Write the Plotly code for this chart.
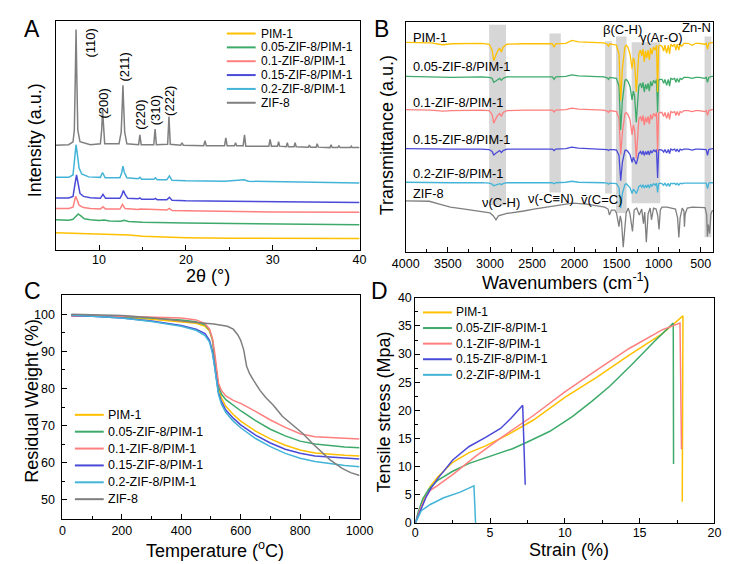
import plotly.graph_objects as go

W, H = 730, 564
FONT = "Liberation Sans, Arial, Helvetica, sans-serif"


def fx(px):
    return px / W


def fy(py):
    return 1 - py / H


names = ["PIM-1", "0.05-ZIF-8/PIM-1", "0.1-ZIF-8/PIM-1", "0.15-ZIF-8/PIM-1", "0.2-ZIF-8/PIM-1", "ZIF-8"]
colors = ["#FFC000", "#3DAA6A", "#FF7F7F", "#4A4AD8", "#43B4D8", "#7F7F7F"]

# ---------------- A: XRD ----------------
xrd_pim1_x = [5.0, 10.0, 13.5, 15.0, 17.0, 20.0, 25.0, 30.0, 40.0]
xrd_pim1_y = [17.7, 16.3, 15.5, 14.0, 13.2, 12.7, 12.1, 12.0, 11.7]
xrd_005_x = [5.0, 6.5, 7.0, 7.3, 7.6, 7.9, 8.3, 9.0, 10.0, 10.6, 11.2, 12.5, 12.9, 13.4, 15.0, 20.0, 30.0, 40.0]
xrd_005_y = [31, 30.5, 31.5, 34.5, 37, 35, 32, 31, 30.2, 30.8, 29.8, 29.5, 30.5, 29.3, 28.5, 27.7, 26.5, 26]
xrd_01_x = [5.0, 6.5, 7.0, 7.15, 7.3, 7.45, 7.7, 8.2, 9.0, 10.15, 10.45, 10.75, 12.4, 12.7, 13.0, 14.5, 14.7, 16.5, 17.8, 18.1, 18.4, 20.0, 25.0, 30.0, 40.0]
xrd_01_y = [42.7, 42.7, 44, 50, 55, 52, 46, 43.5, 42.5, 42, 44.3, 42, 42, 46.7, 42.5, 41.5, 42, 41.5, 41, 42.7, 40.5, 40.2, 39.5, 39, 38.7]
xrd_015_x = [5.0, 6.5, 7.0, 7.2, 7.4, 7.55, 7.8, 8.2, 9.0, 10.15, 10.45, 10.75, 12.4, 12.6, 12.8, 13.0, 13.3, 14.5, 14.7, 14.9, 16.3, 16.5, 16.7, 17.8, 18.1, 18.4, 20.0, 25.0, 30.0, 35.0, 40.0]
xrd_015_y = [53.3, 53.3, 55, 66, 77, 70, 58, 55, 53.5, 53, 57, 53, 53, 56, 61, 57, 53, 52.5, 53.5, 52, 52, 53, 51.5, 51.5, 54, 51, 50.5, 50, 49.5, 49, 48.7]
xrd_02_x = [5.0, 6.5, 7.0, 7.2, 7.35, 7.5, 7.7, 8.0, 8.8, 10.15, 10.4, 10.7, 12.4, 12.6, 12.75, 12.9, 13.2, 14.5, 14.7, 14.9, 16.3, 16.5, 16.7, 17.8, 18.1, 18.4, 20.0, 24.5, 26.7, 27.2, 30.0, 35.0, 40.0]
xrd_02_y = [74.5, 74.5, 77, 95, 108, 98, 84, 78, 75, 74.5, 79.5, 74, 74, 79, 86, 80, 74, 73, 74.5, 72.5, 72.5, 74, 72, 72, 76, 71.5, 71, 70.5, 72, 70.5, 70, 69.5, 68.7]
xrd_zif8_x = [5.0, 6.5, 7.0, 7.15, 7.25, 7.35, 7.45, 7.55, 7.8, 9.0, 10.15, 10.3, 10.4, 10.5, 10.65,
              12.3, 12.55, 12.68, 12.75, 12.82, 12.95, 13.2, 14.55, 14.7, 14.85, 16.3, 16.45, 16.6,
              17.9, 18.05, 18.2, 19.4, 19.55, 19.7, 22.05, 22.2, 22.35, 24.45, 24.6, 24.75, 25.6, 25.72,
              25.85, 26.6, 26.75, 26.9, 29.55, 29.7, 29.85, 30.55, 30.68, 30.8, 31.55, 31.68, 31.8,
              32.45, 32.58, 32.7, 34.1, 34.22, 34.35, 35.0, 35.12, 35.25, 36.6, 36.72, 36.85, 37.5,
              37.62, 37.75, 38.95, 39.05, 39.15, 40.0]
xrd_zif8_y = [107.5, 108, 111, 123, 171, 226, 171, 123, 111, 108, 109, 123, 144, 123, 109,
              109, 121, 151, 169, 151, 121, 109, 108, 118, 108, 108, 124, 108,
              108.5, 137, 108.5, 107.5, 110, 107.5, 107, 112, 107, 107, 115, 107, 107, 110,
              107, 107, 118, 106.5, 106.5, 113.5, 106.5, 106.5, 111, 106.5, 106, 110, 106,
              106, 110, 106, 105.5, 107.5, 105.5, 105.5, 109, 105.5, 105, 108, 105, 105,
              107, 105, 105, 106.5, 105, 105]
hkl_labels = ["(110)", "(200)", "(211)", "(220)", "(310)", "(222)"]

# ---------------- B: FTIR ----------------
ftir_wn = [4000, 3700, 3565, 3450, 3100, 3010, 2975, 2955, 2935, 2910,
           2885, 2865, 2845, 2800, 2600, 2260, 2240, 2220, 2100, 2030,
           1950, 1800, 1650, 1610, 1595, 1580, 1540, 1500, 1470, 1450,
           1430, 1400, 1385, 1365, 1340, 1315, 1300, 1285, 1265, 1250,
           1235, 1215, 1200, 1185, 1170, 1155, 1140, 1125, 1110, 1095,
           1080, 1060, 1040, 1025, 1012, 1000, 985, 960, 940, 925,
           905, 885, 870, 855, 835, 810, 795, 780, 760, 745,
           725, 700, 650, 600, 560, 520, 480, 450, 435, 420,
           405, 390, 370, 350]
ftir_pim1 = [215, 214.5, 212.5, 213.5, 214, 213, 207, 196, 201, 206,
             209, 205, 210, 213, 213.5, 213.5, 210, 213.5, 214, 217,
             215.5, 215, 214.5, 213, 211, 213.5, 213, 212, 203, 155,
             188, 210, 212, 210, 203, 188, 199, 195, 164, 181,
             203, 207, 201, 208, 195, 206, 199, 207, 197, 209,
             203, 210, 207, 212, 164, 211, 212, 211, 206, 212,
             204, 212, 203, 213, 211, 213, 207, 213, 207, 213,
             211, 214, 214, 212, 214, 214, 213.5, 213, 214, 208,
             214, 214.5, 215, 215]
ftir_005 = [180, 179.5, 178.5, 179, 179.5, 179, 178, 174, 175, 177,
            178, 176, 178, 179.5, 179.5, 179.5, 177, 179.5, 180, 181.5,
            180.5, 180, 179.5, 178.5, 177, 179, 178.5, 178, 170, 125,
            155, 176, 177, 175, 170, 156, 165, 160, 133, 150,
            170, 173, 168, 174, 164, 172, 167, 173, 165, 175,
            170, 176, 173, 177, 143, 176, 177, 177, 173, 177,
            171, 177, 170, 178, 177, 178, 174, 178, 174, 178,
            177, 179, 179, 178, 179, 179, 178.5, 178, 179, 174,
            179, 179.5, 180, 180]
ftir_01 = [146, 145.5, 144.5, 145, 145.5, 145, 141, 132, 136, 140,
           142, 139, 143, 145, 145.5, 145.5, 143.5, 145.5, 146, 147.5,
           146.5, 146, 145.5, 144.5, 143, 145, 144.5, 144, 137, 100,
           122, 142, 143, 141, 136, 120, 130, 125, 96, 112,
           136, 139, 134, 140, 130, 138, 133, 139, 131, 141,
           136, 142, 139, 143, 103, 142, 143, 143, 139, 143,
           137, 143, 136, 144, 143, 144, 140, 144, 140, 144,
           143, 145, 145, 144, 145, 145, 144.5, 144, 145, 140,
           145, 145.5, 146, 146]
ftir_015 = [106, 105.5, 105, 105.5, 105.5, 105, 103, 99.5, 101, 103,
            104, 102, 104, 105.5, 105.5, 105.5, 104, 105.5, 106, 107.5,
            106.5, 106, 105.5, 105, 104, 105, 105, 104.5, 99, 73,
            92, 104, 104.5, 103, 100, 92, 97, 94, 90, 95,
            101, 103, 100, 103.5, 99, 103, 100, 103.5, 99.5, 104,
            101.5, 104.5, 103, 105, 76, 104.5, 105, 104.5, 102.5, 105,
            101.5, 105, 101, 105.5, 104.5, 105.5, 103, 105.5, 102.5, 105.5,
            104.5, 105.5, 105.5, 104.5, 105.5, 105.5, 105, 104.5, 105, 99,
            105, 105.5, 106, 106]
ftir_02 = [71.5, 71, 70.5, 71, 71, 70.5, 69.5, 68, 68.5, 69.5,
           70, 69, 70, 71, 71, 71, 70, 71, 71.5, 72.5,
           71.5, 71.5, 71, 70.5, 69.5, 70.5, 70.5, 70, 66, 45,
           60, 69, 70, 68.5, 66, 60, 64, 63, 60, 63,
           67, 68.5, 66.5, 69, 65.5, 68.5, 66, 69, 65.5, 69.5,
           67.5, 70, 68.5, 70.5, 61, 70, 70.5, 70, 68.5, 70.5,
           67.5, 70.5, 67, 70.5, 70, 70.5, 69, 70.5, 68.5, 70.5,
           70, 70.5, 70.5, 70, 70.5, 70.5, 70, 70, 70.5, 65,
           70.5, 71, 71, 71]
ftir_zif8_wn = [4000, 3720, 3600, 3470, 3300, 3135, 3000, 2960, 2929, 2900,
                2800, 2600, 2480, 2250, 2020, 1850, 1790, 1700, 1640, 1600,
                1584, 1560, 1520, 1500, 1470, 1455, 1440, 1420, 1400, 1385,
                1360, 1340, 1310, 1290, 1260, 1230, 1200, 1180, 1165, 1146,
                1125, 1100, 1085, 1060, 1030, 1010, 995, 980, 960, 900,
                850, 800, 775, 760, 745, 720, 700, 694, 685, 660,
                600, 500, 450, 430, 421, 410, 395, 380, 360]
ftir_zif8 = [52.3, 52, 49, 46, 44, 42, 40, 37, 33, 37,
             39.5, 42, 44, 47, 50, 49, 48, 47, 46, 44,
             38, 43, 43, 40, 26, 37, 31, 5, 21, 40,
             45, 39, 21, 43, 45, 38, 44, 29, 41, 10,
             39, 45, 33, 45, 44, 37, 23, 43, 46, 46,
             45, 44, 35, 15, 35, 45, 42, 26, 39, 45,
             46, 46, 45.5, 38, 16, 28, 19, 39, 43]
band_labels = ["\u03bd(C-H)", "\u03bd(-C\u2261N)", "\u1e7d(C=C)", "\u03b2(C-H)", "\u03b3(Ar-O)", "Zn-N"]
band_lo = [2810, 2160, 1555, 1380, 980, 375]
band_hi = [3010, 2295, 1635, 1505, 1320, 455]
band_top = [233, 224, 216, 221, 215, 221]
band_bot = [48, 61, 60, 40, 50, 15]

# ---------------- C: TGA ----------------
tga_temp = [30, 100, 200, 300, 400, 450, 480, 495, 505, 512, 518, 525, 535, 550, 575, 600, 650, 700, 750, 800, 850, 900, 950, 1000]
tga_pim1 = [99.8, 99.6, 99.2, 98.7, 98.1, 97.6, 96.8, 95.5, 93.0, 89.0, 84.5, 80.5, 77.5, 75.2, 73.0, 71.2, 68.5, 66.4, 64.7, 63.4, 62.6, 62.2, 62.0, 61.8]
tga_005 = [99.9, 99.7, 99.4, 99.0, 98.5, 98.0, 97.2, 95.8, 93.2, 89.5, 85.0, 81.0, 78.5, 77.0, 75.5, 74.0, 71.3, 69.0, 67.2, 65.8, 65.0, 64.5, 64.2, 64.0]
tga_01 = [99.5, 99.6, 99.5, 99.3, 99.0, 98.5, 97.5, 96.0, 93.5, 90.0, 85.5, 81.5, 79.5, 78.0, 76.8, 76.0, 73.8, 71.5, 69.5, 67.8, 67.0, 66.8, 66.6, 66.4]
tga_015 = [99.7, 99.5, 99.0, 98.2, 97.0, 96.0, 94.8, 93.0, 90.0, 86.5, 82.5, 79.0, 76.5, 74.2, 72.0, 70.2, 67.4, 65.3, 63.6, 62.5, 61.8, 61.5, 61.2, 61.0]
tga_02 = [99.8, 99.5, 99.0, 98.1, 96.8, 95.7, 94.3, 92.5, 89.5, 86.0, 82.0, 78.5, 75.8, 73.5, 71.2, 69.4, 66.5, 64.3, 62.5, 61.2, 60.3, 59.7, 59.2, 58.9]
tga_zif8_temp = [30, 100, 200, 300, 380, 450, 510, 555, 575, 590, 600, 610, 620, 630, 645, 665, 685, 710, 740, 780, 810, 840, 870, 900, 940, 970, 1000]
tga_zif8 = [100.0, 99.9, 99.7, 99.1, 98.3, 97.8, 97.4, 96.8, 96.0, 94.5, 93.0, 90.5, 86.0, 84.0, 82.0, 79.5, 77.5, 75.5, 72.5, 69.8, 67.8, 65.3, 63.0, 60.8, 58.5, 57.3, 56.5]

# ---------------- D: tensile ----------------
strain_pim1 = [0, 0.2, 0.6, 1.0, 1.5, 2.5, 3.6, 4.7, 6.2, 7.9, 10.0, 12.2, 14.3, 16.5, 17.9, 17.85]
stress_pim1 = [0, 1.5, 4.5, 6.5, 8.2, 10.8, 12.5, 13.7, 15.7, 18.3, 22.3, 26.0, 29.8, 33.6, 36.8, 3.8]
strain_005 = [0, 0.2, 0.5, 0.9, 1.5, 2.5, 3.6, 5.0, 6.5, 7.5, 9.0, 10.5, 11.8, 13.0, 14.5, 16.0, 17.25, 17.27]
stress_005 = [0, 2.0, 4.3, 6.0, 7.6, 9.2, 10.6, 11.9, 13.2, 14.4, 16.3, 18.9, 21.6, 24.3, 28.2, 32.3, 35.5, 10.5]
strain_01 = [0, 0.3, 0.7, 1.0, 1.5, 2.5, 4.0, 5.7, 7.9, 10.0, 12.2, 14.3, 16.5, 17.7, 17.8]
stress_01 = [0, 2.3, 4.6, 5.8, 6.7, 8.6, 11.8, 15.1, 19.1, 23.3, 27.3, 31.0, 34.3, 35.5, 13.1]
strain_015 = [0, 0.3, 0.7, 1.0, 1.5, 2.5, 3.6, 4.7, 5.7, 6.4, 7.18, 7.35]
stress_015 = [0, 2.0, 4.5, 6.0, 7.9, 11.2, 13.6, 15.2, 16.8, 18.6, 20.9, 6.8]
strain_02 = [0, 0.2, 0.4, 1.0, 1.9, 3.0, 3.92, 4.03]
stress_02 = [0, 1.2, 2.2, 3.3, 4.5, 5.5, 6.6, 0]

fig = go.Figure()

# A traces
xrd = [(xrd_pim1_x, xrd_pim1_y), (xrd_005_x, xrd_005_y), (xrd_01_x, xrd_01_y),
       (xrd_015_x, xrd_015_y), (xrd_02_x, xrd_02_y), (xrd_zif8_x, xrd_zif8_y)]
for i, (xx, yy) in enumerate(xrd):
    fig.add_trace(go.Scatter(x=xx, y=yy, mode="lines", name=names[i], showlegend=False,
                             line=dict(color=colors[i], width=1.5), xaxis="x", yaxis="y"))

# B traces (drawn bottom-up so upper spectra lie on top)
ftir = [(ftir_wn, ftir_pim1), (ftir_wn, ftir_005), (ftir_wn, ftir_01),
        (ftir_wn, ftir_015), (ftir_wn, ftir_02), (ftir_zif8_wn, ftir_zif8)]
for i in reversed(range(6)):
    xx, yy = ftir[i]
    fig.add_trace(go.Scatter(x=xx, y=yy, mode="lines", name=names[i], showlegend=False,
                             line=dict(color=colors[i], width=1.3), xaxis="x2", yaxis="y2"))

# C traces
tga = [(tga_temp, tga_pim1), (tga_temp, tga_005), (tga_temp, tga_01),
       (tga_temp, tga_015), (tga_temp, tga_02), (tga_zif8_temp, tga_zif8)]
for i, (xx, yy) in enumerate(tga):
    fig.add_trace(go.Scatter(x=xx, y=yy, mode="lines", name=names[i], showlegend=False,
                             line=dict(color=colors[i], width=1.5), xaxis="x3", yaxis="y3"))

# D traces
ten = [(strain_pim1, stress_pim1), (strain_005, stress_005), (strain_01, stress_01),
       (strain_015, stress_015), (strain_02, stress_02)]
for i, (xx, yy) in enumerate(ten):
    fig.add_trace(go.Scatter(x=xx, y=yy, mode="lines", name=names[i], showlegend=False,
                             line=dict(color=colors[i], width=1.5), xaxis="x4", yaxis="y4"))

# shaded bands in B
for lo, hi, t, b in zip(band_lo, band_hi, band_top, band_bot):
    fig.add_shape(type="rect", xref="x2", yref="y2", x0=hi, x1=lo, y0=b, y1=t,
                  fillcolor="#D6D6D6", line=dict(width=0), layer="below")

tickfont = dict(size=12.5, color="black", family=FONT)


def axis(**kw):
    d = dict(showline=True, linecolor="black", linewidth=1, mirror=True, ticks="inside",
             ticklen=5, tickwidth=1, tickcolor="black", showgrid=False, zeroline=False,
             tickfont=tickfont)
    d.update(kw)
    return d


minor = dict(ticks="inside", ticklen=3, tickwidth=1, tickcolor="black", showgrid=False)

fig.update_layout(
    width=W, height=H, autosize=False, margin=dict(l=0, r=0, t=0, b=0),
    paper_bgcolor="white", plot_bgcolor="white", font=dict(family=FONT, color="black"),
    showlegend=False,
    xaxis=axis(domain=[fx(35), fx(351)], range=[5, 40], dtick=10, tick0=0,
               minor=dict(minor, dtick=5), anchor="y", ticklabelstandoff=-2),
    yaxis=axis(domain=[fy(241), fy(6)], range=[0, 235], showticklabels=False, ticks="", anchor="x"),
    xaxis2=axis(domain=[fx(399), fx(719)], range=[4000, 350], dtick=500, tick0=0,
                minor=dict(minor, dtick=250), anchor="y2"),
    yaxis2=axis(domain=[fy(243), fy(7)], range=[0, 236], showticklabels=False, ticks="", anchor="x2"),
    xaxis3=axis(domain=[fx(42), fx(351)], range=[0, 1000], dtick=200, tick0=0,
                minor=dict(minor, dtick=100), anchor="y3"),
    yaxis3=axis(domain=[fy(517), fy(287)], range=[44.74, 105.26], dtick=10, tick0=0,
                minor=dict(minor, dtick=5), anchor="x3", ticklabelstandoff=4),
    xaxis4=axis(domain=[fx(409), fx(720)], range=[0, 20], dtick=5, tick0=0,
                minor=dict(minor, dtick=2.5), anchor="y4", ticklabelstandoff=-2),
    yaxis4=axis(domain=[fy(521), fy(290)], range=[0, 40], dtick=5, tick0=0,
                minor=dict(minor, dtick=2.5), anchor="x4"),
)


def ann(x, y, text, size=13, angle=0, xanchor="center"):
    fig.add_annotation(xref="paper", yref="paper", x=fx(x), y=fy(y), text=text, showarrow=False,
                       xanchor=xanchor, yanchor="middle", textangle=angle,
                       font=dict(size=size, color="black", family=FONT))


# panel letters
ann(10, 14, "A", 23)
ann(374, 14, "B", 23)
ann(11, 283, "C", 23)
ann(372, 283, "D", 23)

# axis titles
ann(193, 268, "2\u03b8 (\u00b0)", 18)
ann(13, 129, "Intensity (a.u.)", 18, -90)
ann(566, 273, "Wavenumbers (cm<sup>-1</sup>)", 18)
ann(380, 123, "Transmittance (a.u.)", 18, -90)
ann(201, 548, "Temperature (<sup>o</sup>C)", 18)
ann(11, 396, "Residual Weight (%)", 18, -90)
ann(569, 549, "Strain (%)", 18)
ann(376, 407, "Tensile stress (Mpa)", 18, -90)

# hkl labels in A
hkl_pos = [(71, 29), (85, 91), (107, 53), (123, 102), (139, 98), (154, 88)]
for lab, (px, py) in zip(hkl_labels, hkl_pos):
    ann(px, py, lab, 13, -90)

# curve labels in B
b_label_y = [23, 53, 90, 128, 163, 183]
for lab, py in zip(names, b_label_y):
    ann(404, py, lab, 12.8, 0, "left")

# band labels in B
band_pos = [(498, 192), (550, 188), (603, 189), (624, 15), (665, 23), (701, 13)]
for lab, (px, py) in zip(band_labels, band_pos):
    ann(px, py, lab, 13)


def manual_legend(labels, cols, x0, x1, xt, y0, dy, size=13):
    for i, (lab, c) in enumerate(zip(labels, cols)):
        yy = y0 + i * dy
        fig.add_shape(type="line", xref="paper", yref="paper", x0=fx(x0), x1=fx(x1),
                      y0=fy(yy), y1=fy(yy), line=dict(color=c, width=2))
        ann(xt, yy, lab, size, 0, "left")


manual_legend(names, colors, 213, 243, 246, 19, 14.2, 12)
manual_legend(names, colors, 55, 85, 87, 410, 17.3, 12.5)
manual_legend(names[:5], colors[:5], 417, 447, 449, 305, 16, 12)

fig.write_html("out.html")
